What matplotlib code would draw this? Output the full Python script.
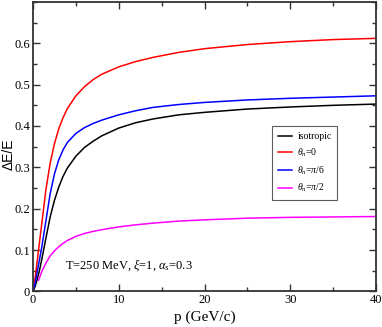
import matplotlib
matplotlib.use('Agg')
import matplotlib.pyplot as plt
from matplotlib.ticker import MultipleLocator

# Data (p in GeV/c, dE/E)
p = [0, 0.25, 0.5, 0.75, 1, 1.5, 2, 2.5, 3, 3.5, 4, 5, 6, 7, 8, 10,
     12, 14, 17, 20, 25, 30, 35, 40]
iso = [0, 0.012, 0.03, 0.05, 0.075, 0.128, 0.18, 0.22, 0.252, 0.278, 0.298,
       0.327, 0.348, 0.363, 0.376, 0.395, 0.408, 0.417, 0.427, 0.433,
       0.441, 0.446, 0.45, 0.453]
th0 = [0, 0.033, 0.075, 0.118, 0.16, 0.245, 0.31, 0.357, 0.393, 0.42, 0.442,
       0.473, 0.495, 0.512, 0.525, 0.543, 0.556, 0.566, 0.578, 0.587,
       0.597, 0.604, 0.609, 0.612]
th6 = [0, 0.02, 0.048, 0.076, 0.104, 0.17, 0.236, 0.284, 0.318, 0.342, 0.36,
       0.382, 0.396, 0.406, 0.414, 0.427, 0.437, 0.445, 0.452, 0.457,
       0.463, 0.467, 0.47, 0.473]
p_half = [0.65, 0.8, 1, 1.5, 2, 2.5, 3, 3.5, 4, 5, 6, 7, 8, 10, 12, 14,
          17, 20, 25, 30, 35, 40]
th2 = [0.027, 0.035, 0.047, 0.068, 0.086, 0.098, 0.108, 0.116, 0.123,
       0.133, 0.14, 0.145, 0.149, 0.156, 0.161, 0.165, 0.17, 0.173,
       0.177, 0.179, 0.18, 0.181]

serif = 'Liberation Serif'
sans = 'Liberation Sans'
plt.rcParams['mathtext.fontset'] = 'custom'
plt.rcParams['mathtext.rm'] = serif
plt.rcParams['mathtext.it'] = serif + ':italic'

fig = plt.figure(figsize=(3.82, 3.27), dpi=100)
ax = fig.add_axes([0.0864, 0.109, 0.898, 0.885])

lw = 1.1
ax.plot(p, iso, color='black', lw=lw, label='isotropic')
ax.plot(p, th0, color='#ff0000', lw=lw, label=r'$\theta_n$=0')
ax.plot(p, th6, color='#0000ff', lw=lw, label=r'$\theta_n$=$\pi$/6')
ax.plot(p_half, th2, color='#ff00ff', lw=lw, label=r'$\theta_n$=$\pi$/2')

ax.set_xlim(0, 40)
ax.set_ylim(0, 0.7)
ax.xaxis.set_major_locator(MultipleLocator(10))
ax.xaxis.set_minor_locator(MultipleLocator(5))
ax.yaxis.set_minor_locator(MultipleLocator(0.05))
ax.set_yticks([0, 0.1, 0.2, 0.3, 0.4, 0.5, 0.6])
ax.set_yticklabels(['0', '0.1', '0.2', '0.3', '0.4', '0.5', '0.6'])
ax.tick_params(which='both', direction='in', top=True, right=True,
               colors='#333333', labelcolor='black', width=1)
ax.tick_params(which='major', length=5, labelsize=9, pad=2)
ax.tick_params(which='minor', length=3)
for lab in ax.get_xticklabels() + ax.get_yticklabels():
    lab.set_family(serif)
for s in ax.spines.values():
    s.set_linewidth(1.3)
    s.set_color('#333333')

ax.set_xlabel('p (GeV/c)', family=serif, fontsize=11, labelpad=3)
ax.set_ylabel('ΔE/E', family=sans, fontsize=10, va='baseline')
ax.yaxis.set_label_coords(-0.06, 0.475)

ax.text(3.73, 0.056, r'T=250 MeV, $\xi$=1, $\alpha_s$=0.3', family=serif,
        fontsize=9)

leg = ax.legend(loc='upper left', bbox_to_anchor=(0.697, 0.571),
                prop={'family': serif, 'size': 7}, frameon=True,
                fancybox=False, handlelength=1.4, handletextpad=0.6,
                borderpad=0.6, labelspacing=0.55, borderaxespad=0)
leg.get_frame().set_edgecolor('#333333')
leg.get_frame().set_linewidth(0.8)

fig.savefig('out.png', dpi=100)
